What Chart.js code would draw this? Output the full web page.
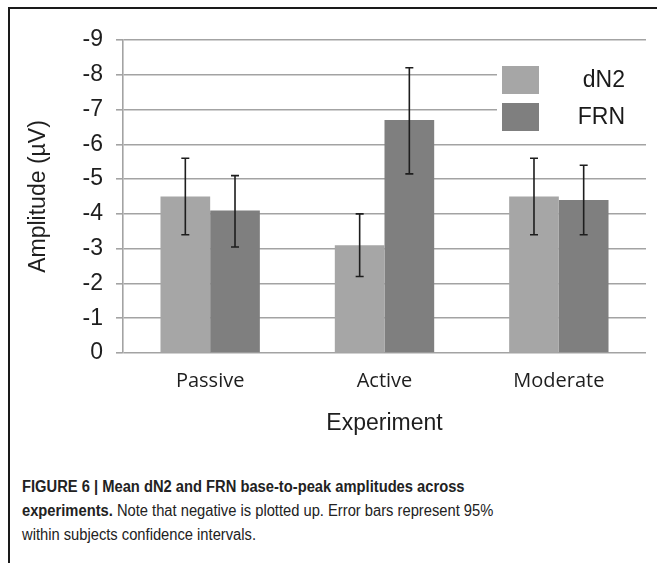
<!DOCTYPE html>
<html>
<head>
<meta charset="utf-8">
<script src="https://cdn.jsdelivr.net/npm/chart.js@4"></script>
<style>
  html, body { margin: 0; padding: 0; background: #fff; }
  #wrap { position: relative; width: 657px; height: 563px; overflow: hidden; }
  #frameTop { position: absolute; left: 8px; top: 7px; width: 649px; height: 2px; background: #1a1a1a; }
  #frameLeft { position: absolute; left: 8px; top: 7px; width: 2px; height: 556px; background: #1a1a1a; }
  #box { position: absolute; left: 0; top: 0; width: 657px; height: 450px; }
  #caption {
    position: absolute; left: 22px; top: 475px; width: 680px; white-space: nowrap;
    font-family: "Liberation Sans", Arial, sans-serif;
    font-size: 16px; line-height: 24px; color: #222;
    transform: scaleX(0.92); transform-origin: left top;
  }
</style>
</head>
<body>
<div id="wrap">
  <div id="frameTop"></div>
  <div id="frameLeft"></div>
  <div id="box"><canvas id="chart" width="657" height="450"></canvas></div>
  <div id="caption"><b>FIGURE 6 | Mean dN2 and FRN base-to-peak amplitudes across<br>experiments.</b> Note that negative is plotted up. Error bars represent 95%<br>within subjects confidence intervals.</div>
</div>
<script>
const ctx = document.getElementById('chart');

const experiments = ['Passive', 'Active', 'Moderate'];
const dn2_values = [-4.5, -3.1, -4.5];
const frn_values = [-4.1, -6.7, -4.4];
// error bar ends (upper = more negative)
const dn2_err_top = [-5.6, -4.0, -5.6];
const dn2_err_bottom = [-3.4, -2.2, -3.4];
const frn_err_top = [-5.1, -8.2, -5.4];
const frn_err_bottom = [-3.05, -5.15, -3.4];
const y_ticks = [0, -1, -2, -3, -4, -5, -6, -7, -8, -9];

const dn2_color = '#a6a6a6';
const frn_color = '#7f7f7f';
const grid_color = '#a3a3a3';
const text_font = '"Liberation Sans", Arial, sans-serif';

const errorBars = {
    id: 'errorBars',
    afterDatasetsDraw(chart) {
        const c = chart.ctx;
        const y = chart.scales.y;
        const ends = [[dn2_err_top, dn2_err_bottom], [frn_err_top, frn_err_bottom]];
        c.save();
        c.strokeStyle = '#1e1e1e';
        c.lineWidth = 1.6;
        ends.forEach(function(e, di){
            chart.getDatasetMeta(di).data.forEach(function(bar, i){
                const x = bar.x;
                const y1 = y.getPixelForValue(e[0][i]);
                const y2 = y.getPixelForValue(e[1][i]);
                c.beginPath();
                c.moveTo(x, y1); c.lineTo(x, y2);
                c.moveTo(x - 4, y1); c.lineTo(x + 4, y1);
                c.moveTo(x - 4, y2); c.lineTo(x + 4, y2);
                c.stroke();
            });
        });
        c.restore();
    }
};

const innerLegend = {
    id: 'innerLegend',
    afterDraw(chart) {
        const c = chart.ctx;
        c.save();
        c.fillStyle = '#fff';
        c.fillRect(497, 60, 149, 78);
        c.font = '23px ' + text_font;
        c.textAlign = 'right';
        c.textBaseline = 'middle';
        chart.data.datasets.forEach(function(ds, i){
            const top = 66 + i * 37;
            c.fillStyle = ds.backgroundColor;
            c.fillRect(502, top, 37, 28);
            c.fillStyle = '#1a1a1a';
            c.fillText(ds.label, 625, top + 15);
        });
        c.restore();
    }
};

const data = {
    labels: experiments,
    datasets: [{
        label: 'dN2',
        data: dn2_values,
        backgroundColor: dn2_color,
        categoryPercentage: 0.57,
        barPercentage: 1.0
    }, {
        label: 'FRN',
        data: frn_values,
        backgroundColor: frn_color,
        categoryPercentage: 0.57,
        barPercentage: 1.0
    }]
};

const config = {
    type: 'bar',
    data: data,
    plugins: [errorBars, innerLegend],
    options: {
        responsive: false,
        animation: false,
        layout: { padding: { left: 0, top: 40, right: 11, bottom: 0 } },
        plugins: {
            legend: { display: false },
            tooltip: { enabled: false }
        },
        scales: {
            x: {
                grid: { display: false, drawTicks: false },
                border: { display: false },
                ticks: {
                    padding: 16,
                    color: '#1e1e1e',
                    font: { family: '"Open Sans", sans-serif', size: 20 }
                },
                title: {
                    display: true,
                    text: 'Experiment',
                    color: '#1e1e1e',
                    padding: { top: 0, bottom: 13 },
                    font: { family: text_font, size: 23 }
                },
                afterFit(scale) { scale.height = 97; }
            },
            y: {
                reverse: true,
                min: -9,
                max: 0,
                afterBuildTicks(scale) { scale.ticks = y_ticks.map(function(v){ return { value: v }; }); },
                grid: { color: grid_color, lineWidth: 1.6, tickLength: 7 },
                border: { display: true, color: grid_color, width: 1.6 },
                ticks: {
                    padding: 13,
                    color: '#1e1e1e',
                    font: { family: text_font, size: 23 }
                },
                title: {
                    display: true,
                    text: 'Amplitude (µV)',
                    color: '#1e1e1e',
                    padding: { top: 25, bottom: 0 },
                    font: { family: text_font, size: 23 }
                },
                afterFit(scale) { scale.width = 123; }
            }
        }
    }
};
const myChart = new Chart(ctx, config);
</script>
</body>
</html>
